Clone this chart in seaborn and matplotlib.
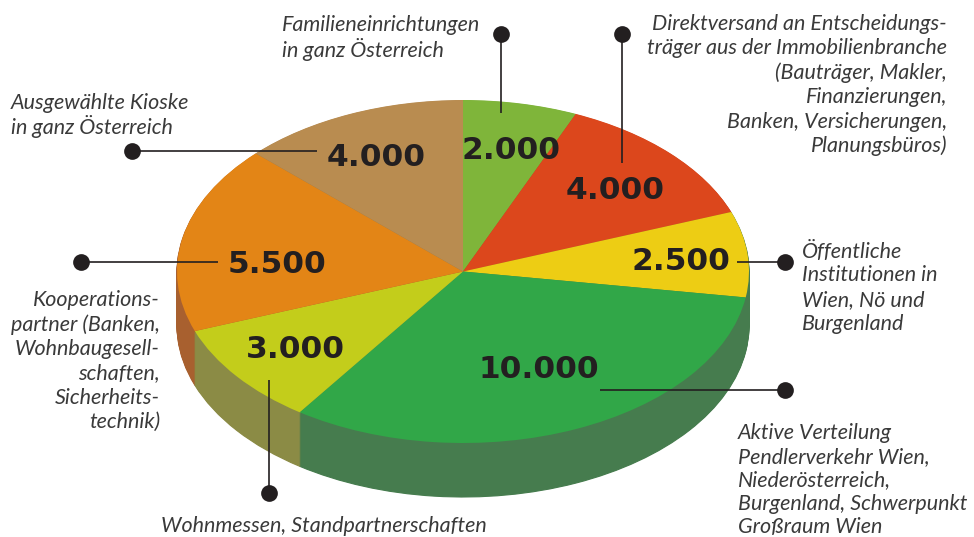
import matplotlib
matplotlib.use("Agg")
import matplotlib.pyplot as plt
import seaborn as sns

sns.set_theme(style="white")
plt.rcParams['font.family'] = ['Lato', 'DejaVu Sans']

# --- data ---
values = [2000, 4000, 2500, 10000, 3000, 5500, 4000]
value_labels = ['2.000', '4.000', '2.500', '10.000', '3.000', '5.500', '4.000']
top_colors = ['#7FB53A', '#DC471C', '#EDCD14', '#31A748', '#C3CD1B', '#E38516', '#B98C50']
side_colors = ['#6A8F3A', '#A8452A', '#467C4E', '#467C4E', '#8B8B45', '#A8602F', '#94754A']
categories = [
    ['Familieneinrichtungen', 'in ganz Österreich'],
    ['Direktversand an Entscheidungs-', 'träger aus der Immobilienbranche',
     '(Bauträger, Makler,', 'Finanzierungen,', 'Banken, Versicherungen,', 'Planungsbüros)'],
    ['Öffentliche', 'Institutionen in', 'Wien, Nö und', 'Burgenland'],
    ['Aktive Verteilung', 'Pendlerverkehr Wien,', 'Niederösterreich,',
     'Burgenland, Schwerpunkt', 'Großraum Wien'],
    ['Wohnmessen, Standpartnerschaften'],
    ['Kooperations-', 'partner (Banken,', 'Wohnbaugesell-', 'schaften,', 'Sicherheits-', 'technik)'],
    ['Ausgewählte Kioske', 'in ganz Österreich'],
]

# --- layout (pixels) ---
W, H = 974, 537
CX, CY, RX, RY, DEPTH = 463, 271.5, 286, 171.5, 54
num_pos = [(511, 150.5), (615, 190.5), (681, 261.5), (539, 369.5), (295, 349.5), (277, 264.5), (376, 157.5)]
text_pos = [(282, 25, 'left', 24.4), (947, 24, 'right', 24.4), (802, 251, 'left', 24.4),
            (738, 433, 'left', 23.6), (161, 526, 'left', 24.4), (160, 300, 'right', 24.4),
            (11, 103, 'left', 23.5)]
leaders = [((501, 113), (501, 34)), ((622, 163), (622, 34)), ((737, 262), (785, 262)),
           ((600, 390), (785, 390)), ((269, 380), (269, 493)), ((218, 262), (81, 262)),
           ((317, 151), (132, 151))]
INK = '#231F20'
TEXT = '#3A3A3A'

fig = plt.figure(figsize=(W / 100, H / 100), dpi=100)
ax = fig.add_axes([0, 0, 1, 1])
palette_top = sns.color_palette(top_colors)
palette_side = sns.color_palette(side_colors)

# extruded side: stacked darker pies, deepest first
for d in range(DEPTH, 0, -1):
    ax.pie(values, colors=palette_side, startangle=90, counterclock=False, radius=1,
           center=(0, -d / RY), wedgeprops=dict(linewidth=0.8, edgecolor='none'))
    for w, c in zip(ax.patches[-len(values):], palette_side):
        w.set_edgecolor(c)
# top face
ax.pie(values, colors=palette_top, startangle=90, counterclock=False, radius=1,
       center=(0, 0), wedgeprops=dict(linewidth=0))

ax.set_aspect('auto')
ax.set_xlim((0 - CX) / RX, (W - CX) / RX)
ax.set_ylim((CY - H) / RY, (CY - 0) / RY)
ax.axis('off')

# overlay in pixel coordinates
ov = fig.add_axes([0, 0, 1, 1], facecolor='none')
ov.set_xlim(0, W)
ov.set_ylim(H, 0)
ov.axis('off')

for (a, b) in leaders:
    ov.plot([a[0], b[0]], [a[1], b[1]], color=INK, lw=1.2, solid_capstyle='butt', zorder=3)
    ov.scatter([b[0]], [b[1]], s=145, color=INK, linewidths=0, zorder=4)

for label, (x, y) in zip(value_labels, num_pos):
    ov.text(x, y, label, ha='center', va='center', fontsize=22.5, fontweight='bold',
            family='DejaVu Sans', color=INK, zorder=5)

for lines, (x, y, ha, pitch) in zip(categories, text_pos):
    for i, line in enumerate(lines):
        ov.text(x, y + i * pitch, line, ha=ha, va='center', fontsize=15.5,
                fontstyle='italic', fontweight='normal', color=TEXT, zorder=5)

fig.savefig('out.png', dpi=100)
